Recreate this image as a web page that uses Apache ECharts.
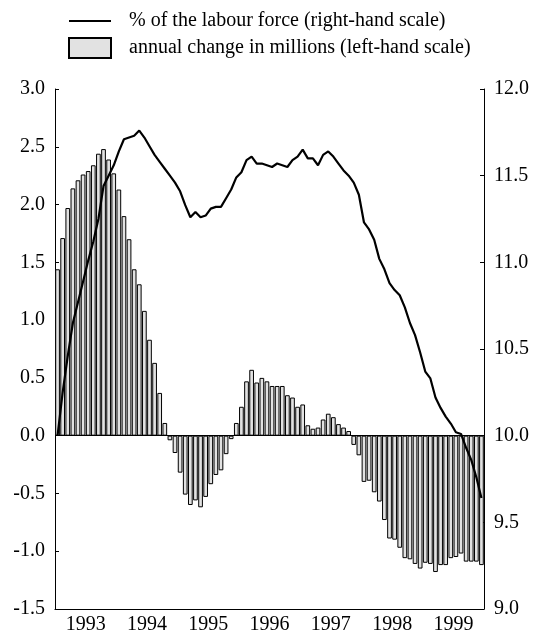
<!DOCTYPE html>
<html>
<head>
<meta charset="utf-8">
<script src="https://cdn.jsdelivr.net/npm/echarts@6/dist/echarts.min.js"></script>
<style>
  html, body { margin: 0; padding: 0; background: #fff; }
  #chart { width: 533px; height: 630px; }
</style>
</head>
<body>
<div id="chart"></div>
<script>
// years on the x axis, one bar / one point per month
const years = ['1993', '1994', '1995', '1996', '1997', '1998', '1999']
const months = ['01', '02', '03', '04', '05', '06', '07', '08', '09', '10', '11', '12']

// annual change in millions (left-hand scale)
const annualChange = [
  1.44, 1.71, 1.97, 2.14, 2.21, 2.26, 2.29, 2.34, 2.44, 2.48, 2.39, 2.27,
  2.13, 1.90, 1.70, 1.44, 1.31, 1.08, 0.83, 0.63, 0.37, 0.11, -0.04, -0.15,
  -0.32, -0.51, -0.60, -0.56, -0.62, -0.53, -0.42, -0.34, -0.30, -0.16, -0.03, 0.11,
  0.25, 0.47, 0.57, 0.46, 0.50, 0.47, 0.43, 0.43, 0.43, 0.35, 0.33, 0.25,
  0.27, 0.09, 0.06, 0.07, 0.14, 0.19, 0.16, 0.10, 0.07, 0.04, -0.08, -0.17,
  -0.40, -0.39, -0.49, -0.57, -0.73, -0.89, -0.90, -0.97, -1.06, -1.07, -1.11, -1.15,
  -1.10, -1.11, -1.18, -1.12, -1.12, -1.06, -1.05, -1.02, -1.09, -1.09, -1.09, -1.12
]

// % of the labour force (right-hand scale)
const labourShare = [
  10.00, 10.25, 10.46, 10.65, 10.77, 10.89, 11.01, 11.12, 11.25, 11.44, 11.50, 11.56,
  11.64, 11.71, 11.72, 11.73, 11.76, 11.72, 11.67, 11.62, 11.58, 11.54, 11.50, 11.46,
  11.41, 11.33, 11.26, 11.29, 11.26, 11.27, 11.31, 11.32, 11.32, 11.37, 11.42, 11.49,
  11.52, 11.59, 11.61, 11.57, 11.57, 11.56, 11.55, 11.57, 11.56, 11.55, 11.59, 11.61,
  11.65, 11.60, 11.60, 11.56, 11.62, 11.64, 11.61, 11.57, 11.53, 11.50, 11.46, 11.39,
  11.23, 11.19, 11.13, 11.02, 10.96, 10.88, 10.84, 10.81, 10.74, 10.65, 10.58, 10.48,
  10.37, 10.33, 10.22, 10.16, 10.11, 10.07, 10.02, 10.01, 9.93, 9.86, 9.76, 9.64
]

const lineName = '% of the labour force (right-hand scale)'
const barName = 'annual change in millions (left-hand scale)'

const categories = []
years.forEach(y => months.forEach(m => categories.push(y + '-' + m)))

const font = "'Liberation Serif', 'Times New Roman', serif"

const chart = echarts.init(document.getElementById('chart'))
chart.setOption({
  animation: false,
  textStyle: { fontFamily: font, color: '#000' },
  legend: {
    orient: 'vertical',
    left: 68,
    top: 11,
    padding: 0,
    itemWidth: 42,
    itemHeight: 20,
    itemGap: 6,
    selectedMode: false,
    textStyle: { fontFamily: font, fontSize: 20, color: '#000', padding: [0, 0, 0, 13] },
    data: [
      { name: lineName, icon: 'path://M0,0 L42,0 L42,2.2 L0,2.2 Z' },
      { name: barName, icon: 'rect' }
    ]
  },
  grid: {
    left: 55,
    right: 49,
    top: 89,
    bottom: 21,
    outerBoundsMode: 'none'
  },
  xAxis: [
    {
      type: 'category',
      data: categories,
      position: 'bottom',
      boundaryGap: true,
      axisLine: { onZero: false, lineStyle: { color: '#000', width: 1.2 } },
      axisTick: {
        inside: true,
        length: 5,
        interval: (i) => i % 3 === 0,
        lineStyle: { color: '#000' }
      },
      axisLabel: {
        interval: (i) => i % 12 === 6,
        formatter: (v) => v.slice(0, 4),
        fontFamily: font,
        fontSize: 20,
        color: '#000',
        margin: 6,
        padding: [0, 5, 0, 0]
      },
      splitLine: { show: false }
    },
    {
      type: 'category',
      data: categories,
      position: 'bottom',
      boundaryGap: true,
      axisLine: { show: false, onZero: false },
      axisTick: {
        inside: true,
        length: 9,
        interval: (i) => i % 12 === 0,
        lineStyle: { color: '#000' }
      },
      axisLabel: { show: false },
      splitLine: { show: false }
    }
  ],
  yAxis: [
    {
      type: 'value',
      min: -1.5,
      max: 3,
      interval: 0.5,
      position: 'left',
      axisLine: { show: true, lineStyle: { color: '#000' } },
      axisTick: { show: true, inside: true, length: 4, lineStyle: { color: '#000' } },
      axisLabel: {
        formatter: (v) => v.toFixed(1),
        fontFamily: font,
        fontSize: 20,
        color: '#000',
        margin: 10
      },
      splitLine: { show: false }
    },
    {
      type: 'value',
      min: 9,
      max: 12,
      interval: 0.5,
      position: 'right',
      axisLine: { show: true, lineStyle: { color: '#000' } },
      axisTick: { show: true, inside: true, length: 4, lineStyle: { color: '#000' } },
      axisLabel: {
        formatter: (v) => v.toFixed(1),
        fontFamily: font,
        fontSize: 20,
        color: '#000',
        margin: 10
      },
      splitLine: { show: false }
    }
  ],
  series: [
    {
      name: barName,
      type: 'bar',
      xAxisIndex: 0,
      yAxisIndex: 0,
      data: annualChange,
      barCategoryGap: '8%',
      itemStyle: { color: '#e2e2e2', borderColor: '#000', borderWidth: 1 },
      markLine: {
        silent: true,
        symbol: 'none',
        label: { show: false },
        lineStyle: { color: '#000', type: 'solid', width: 1.2 },
        data: [{ yAxis: 0 }]
      }
    },
    {
      name: lineName,
      type: 'line',
      xAxisIndex: 0,
      yAxisIndex: 1,
      data: labourShare,
      symbol: 'none',
      z: 5,
      lineStyle: { color: '#000', width: 2.2 },
      itemStyle: { color: '#000' }
    }
  ]
})
</script>
</body>
</html>
